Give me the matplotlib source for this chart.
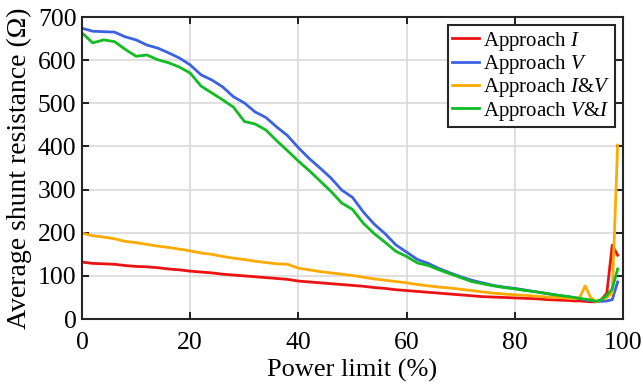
import numpy as np
import matplotlib
matplotlib.use("Agg")
import matplotlib.pyplot as plt

plt.rcParams['font.family'] = ['Liberation Serif', 'DejaVu Serif']
plt.rcParams['mathtext.fontset'] = 'custom'
plt.rcParams['mathtext.rm'] = 'Liberation Serif'
plt.rcParams['mathtext.it'] = 'Liberation Serif:italic'

x = list(range(0, 90, 2)) + list(range(90, 100))

approach_I = [132, 129, 128, 127, 124, 122, 121, 119, 116, 114, 111, 109, 107, 104, 102,
              100, 98, 96, 94, 92, 88, 86, 84, 82, 80, 78, 76, 73, 71, 68, 66, 64, 62,
              60, 58, 56, 54, 52, 51, 50, 49, 48, 47, 45, 44,
              43, 42, 42, 41, 40, 40, 45, 60, 171, 148]
approach_V = [674, 667, 666, 665, 654, 647, 635, 628, 617, 605, 589, 566, 554, 538, 515,
              501, 480, 467, 445, 425, 397, 372, 350, 327, 299, 282, 248, 220, 198, 172,
              155, 138, 129, 117, 107, 98, 90, 84, 78, 74, 71, 67, 63, 59, 55,
              51, 49, 47, 45, 43, 41, 41, 42, 45, 86]
approach_IV = [199, 193, 190, 186, 180, 177, 173, 169, 166, 162, 158, 153, 150, 145, 141,
               138, 134, 131, 128, 127, 118, 114, 110, 107, 104, 101, 97, 93, 90, 87,
               84, 80, 77, 74, 72, 69, 66, 63, 60, 58, 56, 55, 53, 51, 50,
               48, 47, 50, 77, 50, 40, 45, 50, 60, 403]
approach_VI = [663, 640, 647, 643, 625, 609, 612, 601, 594, 584, 570, 540, 524, 508, 491,
               458, 452, 438, 413, 390, 366, 344, 320, 296, 269, 254, 222, 198, 178, 157,
               145, 130, 124, 114, 105, 96, 87, 82, 77, 73, 70, 66, 63, 59, 55,
               52, 50, 48, 46, 44, 41, 45, 55, 70, 116]

labels = [r"Approach $\mathit{I}$", r"Approach $\mathit{V}$",
          r"Approach $\mathit{I}$&$\mathit{V}$", r"Approach $\mathit{V}$&$\mathit{I}$"]
colors = ['#ee1111', '#3b62e0', '#ffaa00', '#11bb22']

fig = plt.figure(figsize=(6.43, 3.91), dpi=100)
ax = fig.add_axes([0.1275, 0.184, 0.8415, 0.7725])

for ys, lab, c in zip([approach_I, approach_V, approach_IV, approach_VI], labels, colors):
    ax.plot(x, ys, color=c, lw=2.0, label=lab)

ax.set_xlim(0, 100)
ax.set_ylim(0, 700)
ax.set_xticks([0, 20, 40, 60, 80, 100])
ax.set_yticks(range(0, 701, 100))
ax.grid(True, color='#d9d9d9', lw=1.2)
ax.set_axisbelow(True)
ax.tick_params(direction='in', top=True, right=True, length=5, width=1.2,
               labelsize=18.5)
ax.tick_params(axis='x', pad=9)
ax.tick_params(axis='y', pad=4)
for s in ax.spines.values():
    s.set_linewidth(1.5)
    s.set_color('#262626')
ax.set_xlabel("Power limit (%)", fontsize=19, labelpad=4)
ax.set_ylabel("Average shunt resistance (Ω)", fontsize=20, labelpad=4)

leg = ax.legend(loc='upper right', fontsize=15, frameon=True, fancybox=False,
                edgecolor='#262626', framealpha=1, handlelength=1.3, handletextpad=0.2,
                borderpad=0.2, labelspacing=0.02, borderaxespad=0.4)
leg.get_frame().set_linewidth(1.5)

fig.savefig("out.png", dpi=100)
